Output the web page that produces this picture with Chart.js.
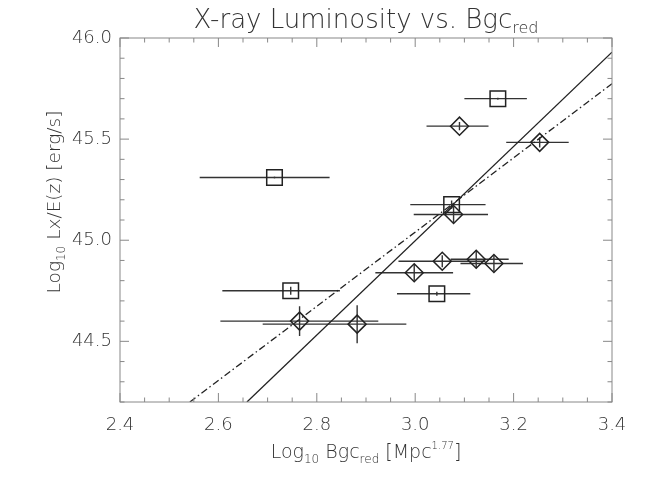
<!DOCTYPE html>
<html>
<head>
  <meta charset="utf-8"/>
  <script src="https://cdn.jsdelivr.net/npm/chart.js@4/dist/chart.umd.min.js"></script>
  <style>
    html, body { margin: 0; padding: 0; background: #fff; }
  </style>
</head>
<body>
<canvas id="chart" width="648" height="478"></canvas>
<script>
// squares
const sqX    = [2.714, 2.747, 3.168, 3.074, 3.044];
const sqY    = [45.310, 44.750, 45.700, 45.176, 44.735];
const sqXlo  = [2.562, 2.608, 3.100, 2.990, 2.963];
const sqXhi  = [2.826, 2.847, 3.227, 3.143, 3.112];
const sqYerr = [0.005, 0.020, 0.005, 0.020, 0.010];

// diamonds
const dmX    = [3.090, 3.253, 3.078, 3.055, 3.124, 3.160, 2.998, 2.765, 2.882];
const dmY    = [45.564, 45.484, 45.127, 44.896, 44.906, 44.885, 44.839, 44.600, 44.585];
const dmXlo  = [3.023, 3.185, 2.997, 2.966, 3.072, 3.092, 2.919, 2.604, 2.690];
const dmXhi  = [3.149, 3.312, 3.148, 3.143, 3.190, 3.219, 3.077, 2.925, 2.982];
const dmYerr = [0.020, 0.025, 0.040, 0.030, 0.045, 0.040, 0.040, 0.074, 0.094];

// fit lines (end points)
const fitSolidX = [2.658, 3.4];
const fitSolidY = [44.2, 45.930];
const fitDashX  = [2.542, 3.4];
const fitDashY  = [44.2, 45.774];

const xTicks = [2.4, 2.6, 2.8, 3.0, 3.2, 3.4];
const yTicks = [44.5, 45.0, 45.5, 46.0];

const FONT = '"DejaVu Sans", sans-serif';
const INK = '#222';
const TXT = '#333';
const AXIS = '#888';

const pts = (xs, ys) => xs.map((x, i) => ({x: x, y: ys[i]}));

function richText(ctx, parts, x, y) {
  // parts: [text, size, dy]; x is the center
  let w = 0;
  parts.forEach(p => { ctx.font = '300 ' + p[1] + 'px ' + FONT; w += ctx.measureText(p[0]).width; });
  let cx = x - w / 2;
  ctx.textAlign = 'left';
  ctx.textBaseline = 'alphabetic';
  parts.forEach(p => {
    ctx.font = '300 ' + p[1] + 'px ' + FONT;
    ctx.fillText(p[0], cx, y + p[2]);
    cx += ctx.measureText(p[0]).width;
  });
}

const errorBars = {
  id: 'errorBars',
  beforeDatasetsDraw(chart) {
    const {ctx, scales: {x, y}, chartArea: a} = chart;
    ctx.save();
    ctx.beginPath();
    ctx.rect(a.left, a.top, a.right - a.left, a.bottom - a.top);
    ctx.clip();
    ctx.strokeStyle = '#333';
    ctx.lineWidth = 1.4;
    const draw = (xs, ys, xlo, xhi, yerr) => {
      xs.forEach((v, i) => {
        const px = x.getPixelForValue(v), py = y.getPixelForValue(ys[i]);
        ctx.beginPath();
        ctx.moveTo(x.getPixelForValue(xlo[i]), py);
        ctx.lineTo(x.getPixelForValue(xhi[i]), py);
        ctx.moveTo(px, y.getPixelForValue(ys[i] - yerr[i]));
        ctx.lineTo(px, y.getPixelForValue(ys[i] + yerr[i]));
        ctx.stroke();
      });
    };
    draw(sqX, sqY, sqXlo, sqXhi, sqYerr);
    draw(dmX, dmY, dmXlo, dmXhi, dmYerr);
    ctx.restore();
  }
};

const frame = {
  id: 'frame',
  afterDraw(chart) {
    const {ctx, scales: {x, y}, chartArea: a} = chart;
    ctx.save();
    ctx.strokeStyle = AXIS;
    ctx.lineWidth = 1;
    ctx.strokeRect(a.left, a.top, a.right - a.left, a.bottom - a.top);
    ctx.beginPath();
    for (let i = 0; i <= 20; i++) {
      const px = x.getPixelForValue(2.4 + i * 0.05);
      const len = i % 4 === 0 ? 9 : 4.5;
      ctx.moveTo(px, a.bottom); ctx.lineTo(px, a.bottom - len);
      ctx.moveTo(px, a.top); ctx.lineTo(px, a.top + len);
    }
    for (let i = 0; i <= 18; i++) {
      const py = y.getPixelForValue(44.2 + i * 0.1);
      const len = (i - 3) % 5 === 0 ? 9 : 4.5;
      ctx.moveTo(a.left, py); ctx.lineTo(a.left + len, py);
      ctx.moveTo(a.right, py); ctx.lineTo(a.right - len, py);
    }
    ctx.stroke();

    ctx.fillStyle = TXT;
    const cx = (a.left + a.right) / 2;
    richText(ctx, [['X-ray Luminosity vs. Bgc', 26, 0], ['red', 16, 5]], cx, 28);
    richText(ctx, [['Log', 19, 0], ['10', 12, 5], [' Bgc', 19, 0], ['red', 12, 5],
                   [' [Mpc', 19, 0], ['1.77', 10, -9], [']', 19, 0]], cx, 458);
    ctx.translate(60, 202);
    ctx.rotate(-Math.PI / 2);
    richText(ctx, [['Log', 18.5, 0], ['10', 12, 5], [' Lx/E(z) [erg/s]', 18.5, 0]], 0, 0);
    ctx.restore();
  }
};

new Chart(document.getElementById('chart'), {
  type: 'scatter',
  data: {
    datasets: [
      {
        data: pts(sqX, sqY),
        pointStyle: 'rect', pointRadius: 11,
        borderColor: INK, borderWidth: 1.5, backgroundColor: 'rgba(0,0,0,0)'
      },
      {
        data: pts(dmX, dmY),
        pointStyle: 'rectRot', pointRadius: 9,
        borderColor: INK, borderWidth: 1.5, backgroundColor: 'rgba(0,0,0,0)'
      },
      {
        data: pts(fitSolidX, fitSolidY),
        showLine: true, pointRadius: 0, borderColor: INK, borderWidth: 1.3
      },
      {
        data: pts(fitDashX, fitDashY),
        showLine: true, pointRadius: 0, borderColor: INK, borderWidth: 1.3,
        borderDash: [7, 3, 1.5, 3]
      }
    ]
  },
  options: {
    responsive: false,
    animation: false,
    devicePixelRatio: 1,
    layout: { padding: { left: 0, right: 36, top: 38, bottom: 0 } },
    plugins: { legend: { display: false }, tooltip: { enabled: false } },
    scales: {
      x: {
        type: 'linear', min: 2.4, max: 3.4,
        afterBuildTicks: s => { s.ticks = xTicks.map(v => ({value: v})); },
        afterFit: s => { s.height = 76; },
        grid: { display: false, drawTicks: false }, border: { display: false },
        ticks: { callback: v => v.toFixed(1), color: TXT, padding: 13,
                 font: { family: FONT, size: 18, weight: 300 }, maxRotation: 0 }
      },
      y: {
        type: 'linear', min: 44.2, max: 46.0,
        afterBuildTicks: s => { s.ticks = yTicks.map(v => ({value: v})); },
        afterFit: s => { s.width = 120; },
        grid: { display: false, drawTicks: false }, border: { display: false },
        ticks: { callback: v => v.toFixed(1), color: TXT, padding: 8,
                 font: { family: FONT, size: 18, weight: 300 } }
      }
    }
  },
  plugins: [errorBars, frame]
});
</script>
</body>
</html>
